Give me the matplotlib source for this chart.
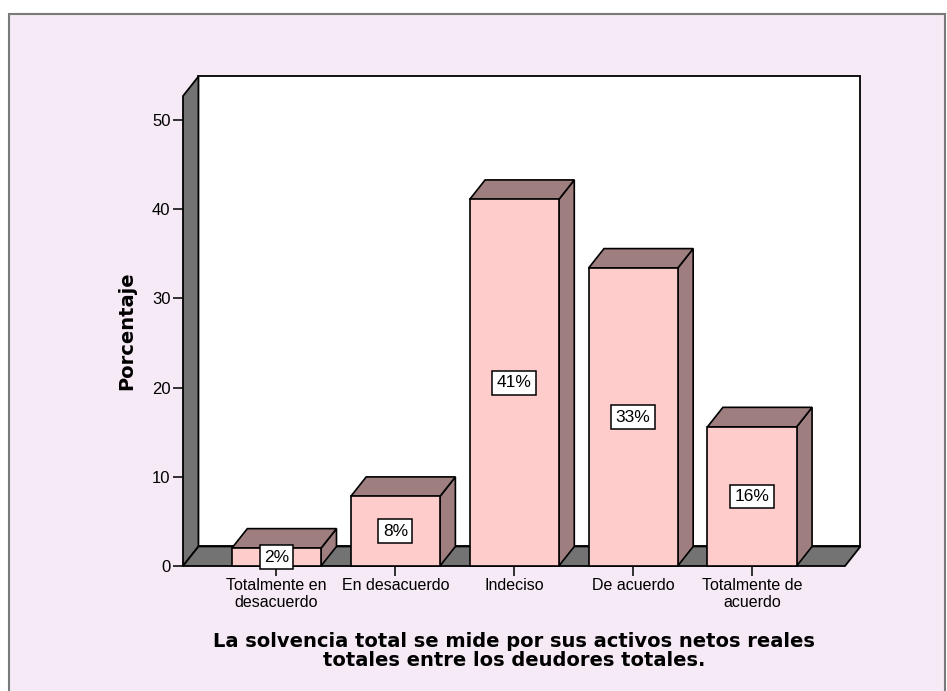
import matplotlib
matplotlib.use('Agg')
import matplotlib.pyplot as plt
from matplotlib.patches import Polygon, Rectangle

# datos del grafico
categorias = ['Totalmente en\ndesacuerdo', 'En desacuerdo', 'Indeciso',
              'De acuerdo', 'Totalmente de\nacuerdo']
porcentajes = [2.0, 7.8, 41.1, 33.4, 15.6]
etiquetas = ['2%', '8%', '41%', '33%', '16%']
marcas_y = [0, 10, 20, 30, 40, 50]

titulo_x = 'La solvencia total se mide por sus activos netos reales\ntotales entre los deudores totales.'
titulo_y = 'Porcentaje'

# colores estilo SPSS
fondo = '#f5eaf5'
rosa = '#ffcccc'
malva = '#9e7e7e'
gris = '#737373'

# profundidad del efecto 3D (unidades de datos)
dx = 0.13
dy = 2.19
ancho = 0.75
x0, x1 = -0.786, 4.782
ymax = 52.7

fig = plt.figure(figsize=(9.47, 6.91), dpi=100)
fig.patch.set_facecolor('white')
marco = Rectangle((9/947, -0.02), (945-9)/947, (691-14)/691 + 0.02,
                  transform=fig.transFigure, facecolor=fondo,
                  edgecolor='#7a7a7a', lw=1.5, zorder=-5)
fig.patches.append(marco)

ax = fig.add_axes([183/947, 125/691, 662/947, 470/691])
ax.set_zorder(1)
ax.set_xlim(x0, x1)
ax.set_ylim(0, ymax)
ax.patch.set_visible(False)
for s in ax.spines.values():
    s.set_visible(False)

# pared del fondo
ax.add_patch(Rectangle((x0+dx, dy), x1-x0, ymax, facecolor='white',
                       edgecolor='black', lw=1.3, clip_on=False, zorder=1))
# pared izquierda
ax.add_patch(Polygon([(x0, 0), (x0+dx, dy), (x0+dx, ymax+dy), (x0, ymax)],
                     closed=True, facecolor=gris, edgecolor='black', lw=1.3,
                     clip_on=False, zorder=2))
# piso
ax.add_patch(Polygon([(x0, 0), (x1, 0), (x1+dx, dy), (x0+dx, dy)],
                     closed=True, facecolor=gris, edgecolor='black', lw=1.3,
                     clip_on=False, zorder=2))

# barras
for i, v in enumerate(porcentajes):
    a = i - ancho/2
    b = i + ancho/2
    ax.add_patch(Polygon([(b, 0), (b+dx, dy), (b+dx, v+dy), (b, v)], closed=True,
                         facecolor=malva, edgecolor='black', lw=1.2, clip_on=False, zorder=3))
    ax.add_patch(Polygon([(a, v), (b, v), (b+dx, v+dy), (a+dx, v+dy)], closed=True,
                         facecolor=malva, edgecolor='black', lw=1.2, clip_on=False, zorder=3))
    ax.add_patch(Rectangle((a, 0), ancho, v, facecolor=rosa, edgecolor='black',
                           lw=1.2, clip_on=False, zorder=4))
    ax.text(i, v/2, etiquetas[i], ha='center', va='center', fontsize=12.5,
            family='Liberation Sans', zorder=5,
            bbox=dict(boxstyle='square,pad=0.25', facecolor='white', edgecolor='black', lw=1.1))

ax.set_xticks(range(len(categorias)))
ax.set_xticklabels(categorias, fontsize=11.5, family='Liberation Sans', linespacing=1.1)
ax.set_yticks(marcas_y)
ax.set_yticklabels([str(m) for m in marcas_y], fontsize=12, family='Liberation Sans')
ax.tick_params(axis='both', length=7, width=1.3, color='#222222', pad=2)

fig.text(127/947, 1-331/691, titulo_y, rotation=90, ha='center', va='center',
         fontsize=14, fontweight='bold', family='DejaVu Sans')
fig.text(514/947, 1-651/691, titulo_x, ha='center', va='center', multialignment='center',
         fontsize=14, fontweight='bold', family='DejaVu Sans', linespacing=0.95)

plt.savefig('out.png', dpi=100, facecolor=fig.get_facecolor())
